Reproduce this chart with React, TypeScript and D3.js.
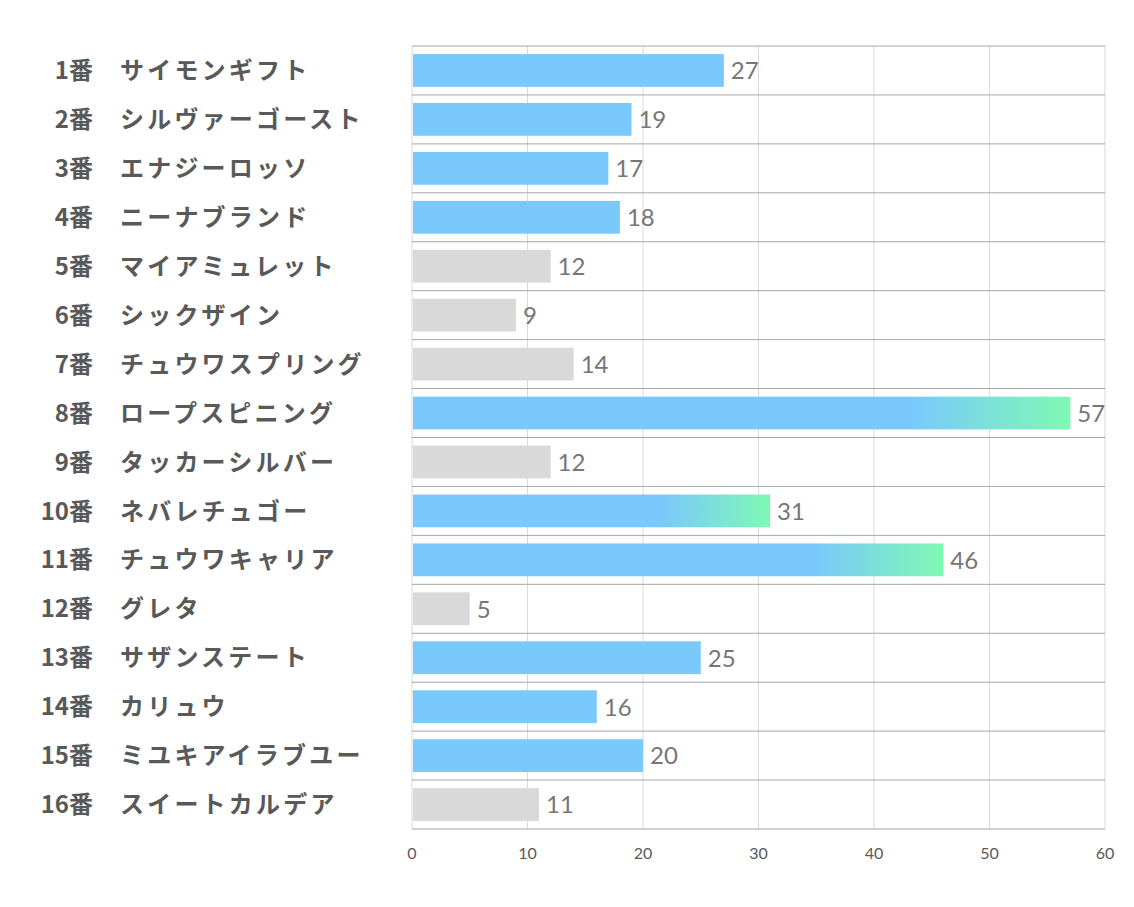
import React from "react";
import * as d3 from "d3";

const numbers = ["1番","2番","3番","4番","5番","6番","7番","8番","9番","10番","11番","12番","13番","14番","15番","16番"];
const names = ["サイモンギフト","シルヴァーゴースト","エナジーロッソ","ニーナブランド","マイアミュレット","シックザイン","チュウワスプリング","ロープスピニング","タッカーシルバー","ネバレチュゴー","チュウワキャリア","グレタ","サザンステート","カリュウ","ミユキアイラブユー","スイートカルデア"];
const values = [27,19,17,18,12,9,14,57,12,31,46,5,25,16,20,11];
// bar style per horse: "blue", "gray", "grad"
const kinds = ["blue","blue","blue","blue","gray","gray","gray","grad","gray","grad","grad","gray","blue","blue","blue","gray"];
const ticks = [0,10,20,30,40,50,60];

const W = 1134, H = 907;
const left = 412, right = 1105, top = 46, bottom = 829;

export default function App() {
  const x = d3.scaleLinear().domain([0, 60]).range([left, right]);
  const y = d3.scaleBand<number>().domain(d3.range(values.length)).range([top, bottom]).paddingInner(0.33).paddingOuter(0.165);
  const band = d3.scaleBand<number>().domain(d3.range(values.length)).range([top, bottom]);
  const labelFont = "'Noto Sans CJK JP', 'Noto Sans', sans-serif";
  const numFont = "Lato, 'Open Sans', sans-serif";
  return (
    <svg width={W} height={H} style={{ display: "block", position: "absolute", left: 0, top: 0, background: "#fff" }}>
      <defs>
        {values.map((v, i) => kinds[i] === "grad" ? (
          <linearGradient key={i} id={`g${i}`} x1="0" x2="1" y1="0" y2="0">
            <stop offset="0" stopColor="#7ac9fc" />
            <stop offset={v > 50 ? "0.76" : v > 40 ? "0.76" : "0.70"} stopColor="#7ac9fc" />
            <stop offset="1" stopColor="#7ef9b3" />
          </linearGradient>
        ) : null)}
      </defs>
      {ticks.map((t) => (
        <line key={"v" + t} x1={x(t)} x2={x(t)} y1={top} y2={bottom} stroke="#d9d9d9" strokeWidth={1} />
      ))}
      {d3.range(values.length + 1).map((i) => {
        const yy = i < values.length ? band(i)! : bottom;
        return <line key={"h" + i} x1={left} x2={right} y1={yy} y2={yy} stroke="#a6a6a6" strokeWidth={1} />;
      })}
      {values.map((v, i) => {
        const fill = kinds[i] === "gray" ? "#d9d9d9" : kinds[i] === "blue" ? "#7ac9fc" : `url(#g${i})`;
        const cy = band(i)! + band.bandwidth() / 2;
        return (
          <g key={"b" + i}>
            <rect x={x(0) + 1} y={y(i)!} width={x(v) - x(0) - 1} height={y.bandwidth()} fill={fill} />
            <text x={x(v) + 7} y={cy} dy="0.37em" fontFamily={numFont} fontSize={24} fill="#767676">{v}</text>
            <text x={93} y={cy} dy="0.36em" textAnchor="end" fontFamily={labelFont} fontWeight={700} fontSize={24} fill="#595959">{numbers[i]}</text>
            <text x={120} y={cy} dy="0.36em" fontFamily={labelFont} fontWeight={700} fontSize={24} letterSpacing={3.2} fill="#595959">{names[i]}</text>
          </g>
        );
      })}
      {ticks.map((t) => (
        <text key={"t" + t} x={x(t)} y={853} dy="0.36em" textAnchor="middle" fontFamily={numFont} fontSize={16} fill="#595959">{t}</text>
      ))}
    </svg>
  );
}
